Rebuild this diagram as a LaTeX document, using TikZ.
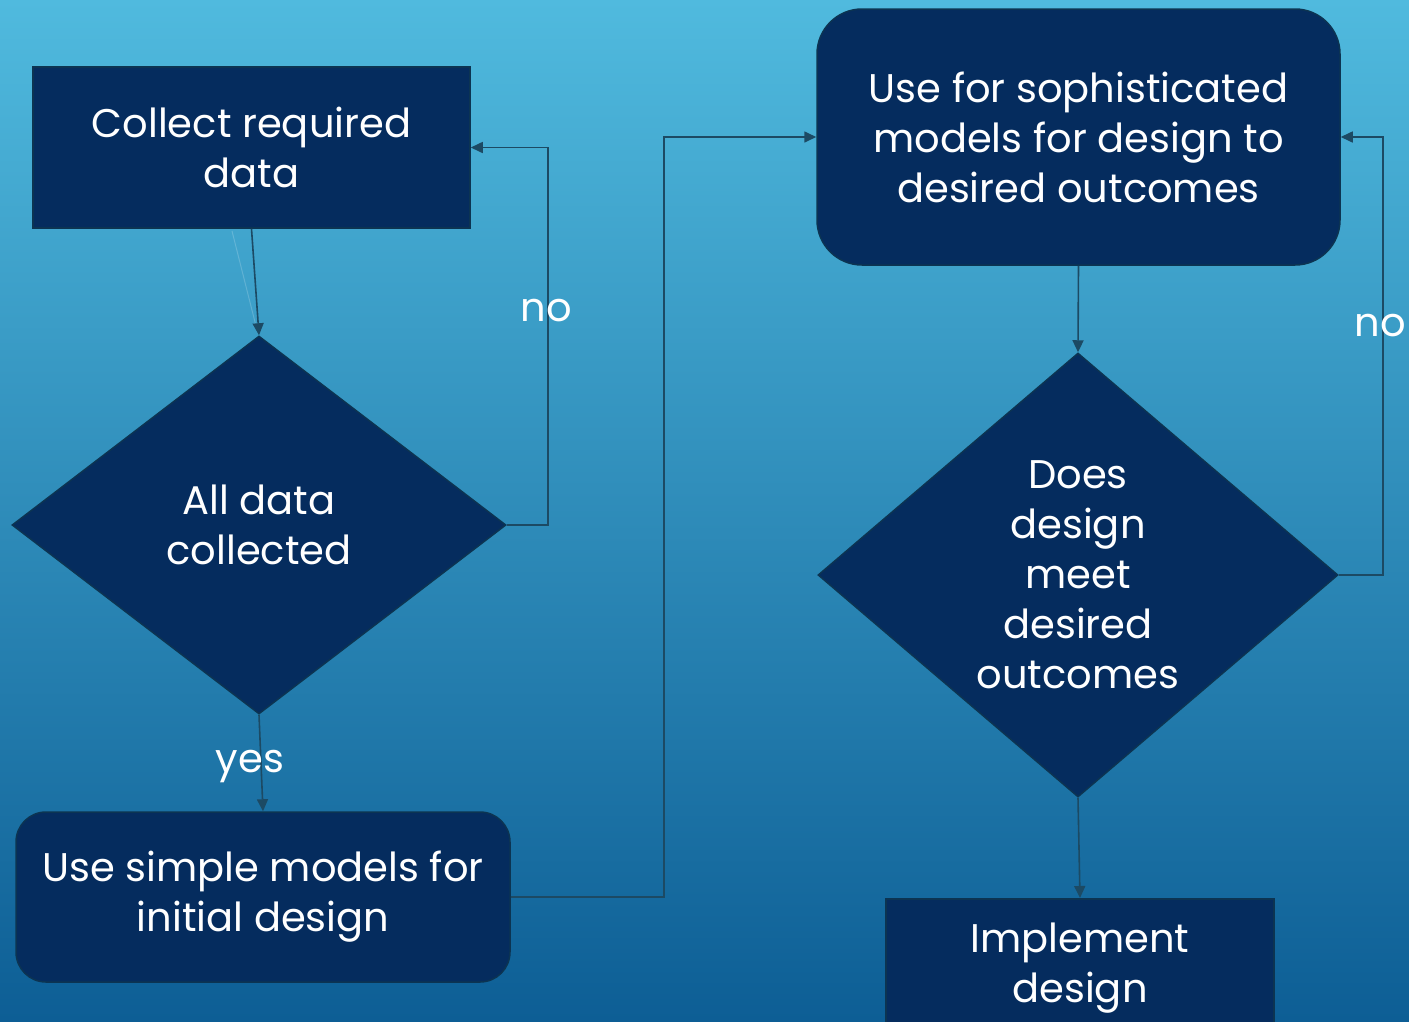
\documentclass[tikz,border=0pt]{standalone}
\usepackage{fontspec}
\setmainfont{Poppins}
\usepackage{tikz}
\usetikzlibrary{shapes.geometric}
\usetikzlibrary{arrows.meta}
\usetikzlibrary{positioning, calc}

\definecolor{skytop}{RGB}{80,186,222}
\definecolor{skybot}{RGB}{13,94,149}
\definecolor{boxfill}{RGB}{5,44,94}
\definecolor{boxedge}{RGB}{12,52,82}
\definecolor{wire}{RGB}{28,74,100}

\begin{document}
\begin{tikzpicture}[x=1pt, y=-1pt,
			box/.style={rectangle, draw=boxedge, line width=1.5pt, fill=boxfill, text=white, align=center, inner sep=0pt, font=\fontsize{40}{50}\selectfont},
			rbox/.style={box, rounded corners=30pt},
			decide/.style={diamond, draw=boxedge, line width=1.5pt, fill=boxfill, text=white, align=center, inner sep=0pt, font=\fontsize{40}{50}\selectfont},
			mylabel/.style={text=white, font=\fontsize{40}{50}\selectfont},
			wire/.style={draw=wire, line width=1.6pt},
			>={Triangle[length=12pt, width=11pt]}
			]
			\useasboundingbox (0,0) rectangle (1409,1021);
			\clip (0,0) rectangle (1409,1021);
			\shade[top color=skytop, bottom color=skybot] (0,0) rectangle (1409,1021);
			
			% left column
			\node[box, minimum width=437pt, minimum height=161pt] (collect) at (251.5,147.5) {Collect required\\data};
			\node[decide, minimum width=494pt, minimum height=378pt, aspect=1.31] (alldata) at (259,525) {All data\\collected};
			\node[rbox, minimum width=494pt, minimum height=170pt] (simple) at (263,897) {Use simple models for\\initial design};
			
			% right column
			\node[rbox, rounded corners=45pt, minimum width=523pt, minimum height=256pt] (soph) at (1078.5,137) {Use for sophisticated\\models for design to\\desired outcomes};
			\node[decide, minimum width=520pt, minimum height=444pt, aspect=1.17] (meet) at (1078,575) {Does\\design\\meet\\desired\\outcomes};
			\node[box, minimum width=388pt, minimum height=138pt, anchor=north] (impl) at (1080,898) {Implement\\design};
			
			\draw[white, opacity=0.18, line width=1pt] (232,231) -- (257,330);
			\draw[wire, ->] (collect.south) to (alldata.north);
			\draw[wire, ->] (alldata.east) -- ++(41,0) |- (collect.east);
			\draw[wire, ->] (alldata.south) to (simple.north);
			\draw[wire, ->] (simple.east) -- ++(153,0) |- (soph.west);
			\draw[wire, ->] (soph.south) to (meet.north);
			\draw[wire, ->] (meet.east) -- ++(44,0) |- (soph.east);
			\draw[wire, ->] (meet.south) to (impl.north);
			
			\node[mylabel] (no1) at (546,311) {no};
			\node[mylabel] (yes1) at (250,767) {yes};
			\node[mylabel] (no2) at (1380,326) {no};
			\end{tikzpicture}
\end{document}
